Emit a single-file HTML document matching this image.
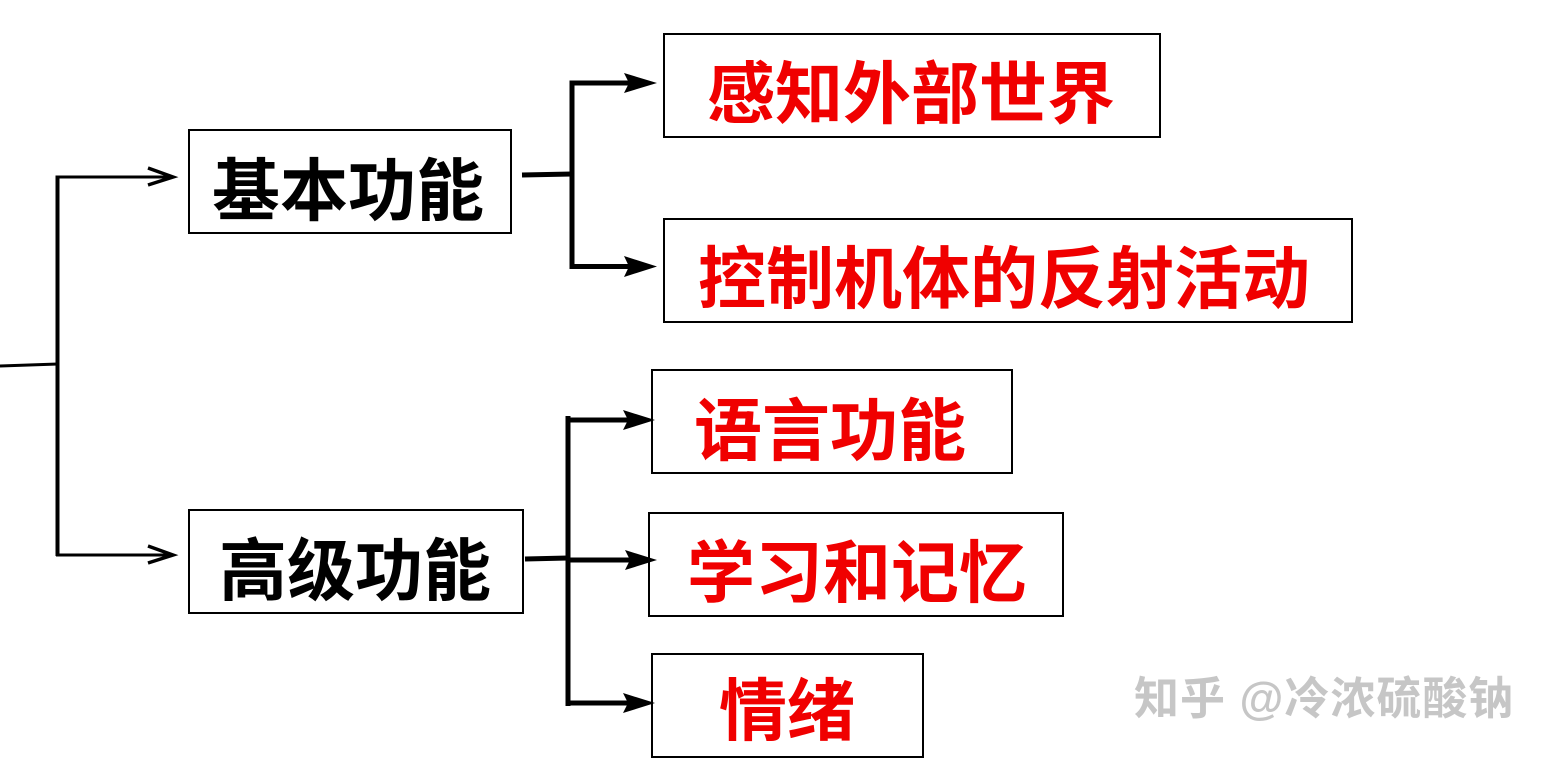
<!DOCTYPE html>
<html><head><meta charset="utf-8"><style>
html,body{margin:0;padding:0;background:#fff;}
svg{display:block;}
.cn{font-family:"Liberation Sans","Noto Sans CJK SC",sans-serif;font-weight:bold;font-size:68px;}
.wm{font-family:"Liberation Sans","Noto Sans CJK SC",sans-serif;font-weight:bold;font-size:45px;letter-spacing:1px;}
</style></head><body>
<svg width="1552" height="762" viewBox="0 0 1552 762" xmlns="http://www.w3.org/2000/svg">
<rect width="1552" height="762" fill="#fff"/>
<g stroke="#000" fill="none" stroke-linecap="butt">
  <line x1="0" y1="366" x2="58" y2="364" stroke-width="3"/>
  <line x1="57.5" y1="175.5" x2="57.5" y2="556" stroke-width="4"/>
  <line x1="56" y1="177" x2="172" y2="177" stroke-width="3"/>
  <line x1="56" y1="555" x2="172" y2="555" stroke-width="3"/>
  <polyline points="148,168 173,177 148,185" stroke-width="3.5" stroke-linejoin="miter"/>
  <polyline points="148,546 173,555 148,563" stroke-width="3.5" stroke-linejoin="miter"/>
</g>
<g fill="none" stroke="#000" stroke-width="2">
  <rect x="189" y="130" width="322" height="103"/>
  <rect x="189" y="510" width="334" height="103"/>
  <rect x="664" y="34" width="496" height="103"/>
  <rect x="664" y="219" width="688" height="103"/>
  <rect x="652" y="370" width="360" height="103"/>
  <rect x="649" y="513" width="414" height="103"/>
  <rect x="652" y="654" width="271" height="103"/>
</g>
<g stroke="#000" fill="none">
  <line x1="522" y1="175" x2="572" y2="174" stroke-width="5"/>
  <line x1="572" y1="80.5" x2="572" y2="269" stroke-width="5"/>
  <line x1="570" y1="83" x2="630" y2="83" stroke-width="5"/>
  <line x1="570" y1="266.5" x2="630" y2="266.5" stroke-width="5"/>
  <line x1="525" y1="559" x2="568" y2="558" stroke-width="5"/>
  <line x1="568" y1="416" x2="568" y2="706" stroke-width="5"/>
  <line x1="566" y1="420" x2="628" y2="420" stroke-width="5"/>
  <line x1="570" y1="560" x2="630" y2="560" stroke-width="5"/>
  <line x1="566" y1="703" x2="628" y2="703" stroke-width="5"/>
</g>
<g fill="#000">
  <polygon points="624,73 657,83 624,93 629,83"/>
  <polygon points="624,256 657,266.5 624,277 629,266.5"/>
  <polygon points="623,410 655,420 623,430 628,420"/>
  <polygon points="625,550 657,560 625,570 630,560"/>
  <polygon points="623,693 655,703 623,713 628,703"/>
</g>
<text class="cn" x="212" y="215" fill="#000">基本功能</text>
<text class="cn" x="219" y="595" fill="#000">高级功能</text>
<text class="cn" x="707" y="118" fill="#f00000">感知外部世界</text>
<text class="cn" x="698" y="303" fill="#f00000">控制机体的反射活动</text>
<text class="cn" x="694" y="455" fill="#f00000">语言功能</text>
<text class="cn" x="687" y="597" fill="#f00000">学习和记忆</text>
<text class="cn" x="719" y="735" fill="#f00000">情绪</text>
<text class="wm" x="1137" y="716" fill="#fff" opacity="0.9">知乎 @冷浓硫酸钠</text>
<text class="wm" x="1134" y="714" fill="#c6c6c6">知乎 @冷浓硫酸钠</text>
</svg>
</body></html>
